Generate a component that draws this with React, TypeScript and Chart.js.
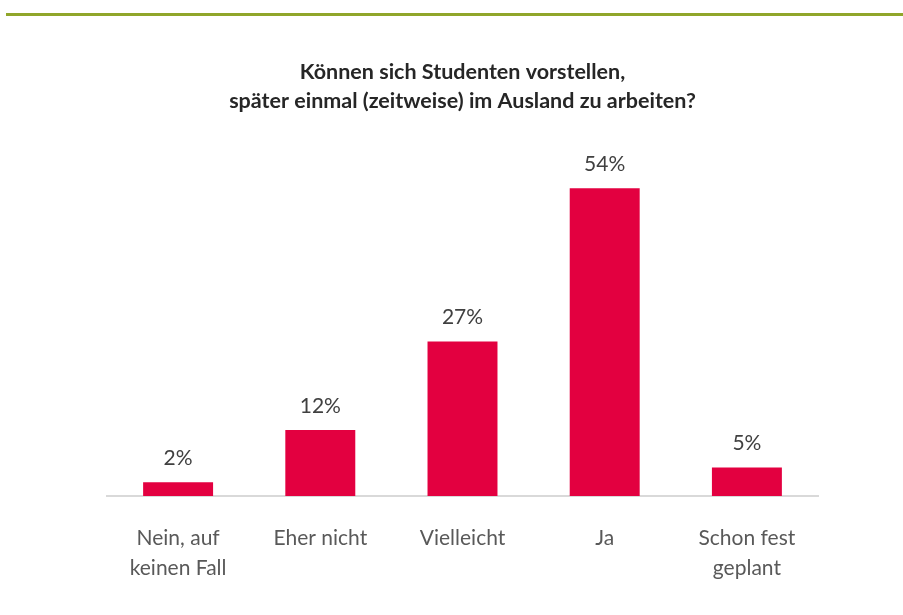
import React, { useEffect, useRef } from "react";
import { Chart, registerables } from "chart.js";

Chart.register(...registerables);

const categories: (string | string[])[] = [
  ["Nein, auf", "keinen Fall"],
  "Eher nicht",
  "Vielleicht",
  "Ja",
  ["Schon fest", "geplant"],
];
const values: number[] = [2.4, 11.6, 27.1, 54, 5];
const titleLines: string[] = [
  "Können sich Studenten vorstellen,",
  "später einmal (zeitweise) im Ausland zu arbeiten?",
];

const FONT = "Lato, 'Open Sans', sans-serif";

export default function App() {
  const ref = useRef<HTMLCanvasElement | null>(null);

  useEffect(() => {
    if (!ref.current) return;
    const bgPlugin = {
      id: "bgLine",
      beforeDraw(chart: any) {
        const { ctx, width, height } = chart;
        ctx.save();
        ctx.fillStyle = "#ffffff";
        ctx.fillRect(0, 0, width, height);
        ctx.fillStyle = "#90a62a";
        ctx.fillRect(6, 13, width - 6, 3);
        ctx.restore();
      },
    };
    const valuePlugin = {
      id: "valueLabels",
      afterDatasetsDraw(chart: any) {
        const { ctx } = chart;
        const meta = chart.getDatasetMeta(0);
        ctx.save();
        ctx.fillStyle = "#404040";
        ctx.font = `21px ${FONT}`;
        ctx.textAlign = "center";
        ctx.textBaseline = "middle";
        meta.data.forEach((bar: any, i: number) => {
          ctx.fillText(Math.round(values[i]) + "%", bar.x, bar.y - 24);
        });
        ctx.restore();
      },
    };
    const chart = new Chart(ref.current, {
      type: "bar",
      data: {
        labels: categories,
        datasets: [
          {
            data: values,
            backgroundColor: "#e30040",
            borderWidth: 0,
            barPercentage: 0.492,
            categoryPercentage: 1,
          },
        ],
      },
      options: {
        responsive: false,
        animation: false,
        devicePixelRatio: 1,
        layout: { padding: { left: 107, right: 85, top: 0, bottom: 5 } },
        plugins: {
          legend: { display: false },
          tooltip: { enabled: false },
          title: {
            display: true,
            text: titleLines,
            color: "#262626",
            font: { family: FONT, size: 21.5, weight: "bold", lineHeight: "29px" as any },
            padding: { top: 57.5, bottom: 38.5 },
          },
        },
        scales: {
          x: {
            grid: { display: false, drawTicks: false },
            border: { display: true, color: "#d9d9d9", width: 2 },
            ticks: {
              color: "#595959",
              font: { family: FONT, size: 21, lineHeight: "30px" as any },
              padding: 27,
              maxRotation: 0,
              autoSkip: false,
            },
          },
          y: {
            display: false,
            min: 0,
            max: 60,
          },
        },
      },
      plugins: [bgPlugin, valuePlugin],
    });
    return () => chart.destroy();
  }, []);

  return (
    <div style={{ position: "absolute", left: 0, top: 0, width: 903, height: 615 }}>
      <canvas ref={ref} width={903} height={615} />
    </div>
  );
}
